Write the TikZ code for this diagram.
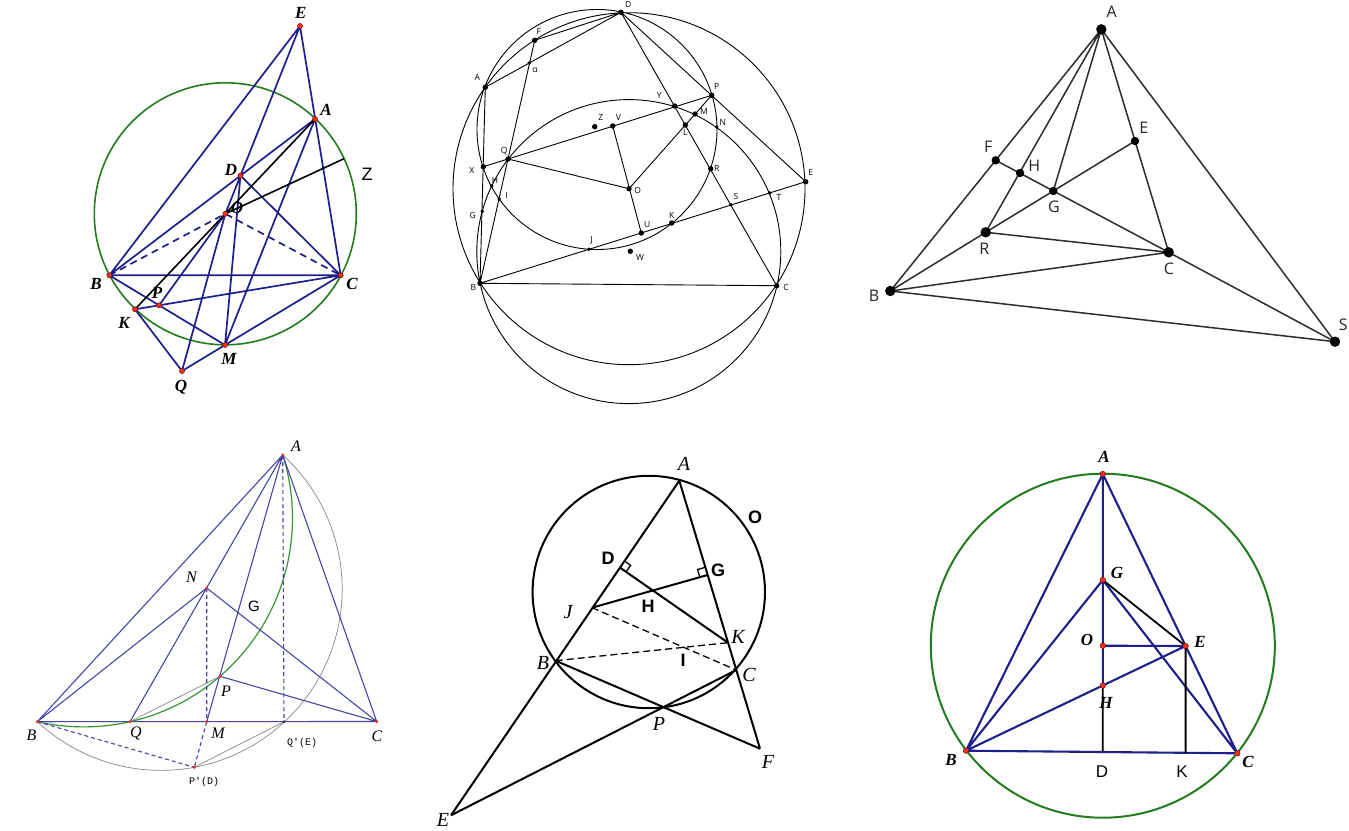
\documentclass[tikz,border=0pt]{standalone}
\usepackage{fontspec}
\setmainfont{Liberation Serif}
\newfontfamily\sansf{Liberation Sans}
\newfontfamily\osans{Open Sans}
\newfontfamily\monof[Ligatures=TeXOff]{Liberation Mono}
\usetikzlibrary{calc}
\definecolor{navyA}{RGB}{30,30,140}
\definecolor{greenA}{RGB}{35,125,30}
\definecolor{redpt}{RGB}{235,50,30}
\definecolor{blueD}{RGB}{70,70,168}
\definecolor{greenD}{RGB}{55,150,55}
\definecolor{greyD}{RGB}{135,135,135}
\definecolor{darkC}{RGB}{45,45,45}
\tikzset{
  lineA/.style={draw=navyA, line width=1.7pt},
  blackA/.style={draw=black, line width=1.6pt},
  rdot/.style={fill=redpt, draw=red!45!black, line width=0.4pt},
  labA/.style={inner sep=0pt, font=\fontsize{17}{17}\selectfont\bfseries\itshape},
  lineB/.style={draw=black, line width=0.9pt},
  labB/.style={inner sep=0pt, font=\osans\fontsize{8.5}{8.5}\selectfont},
  lineC/.style={draw=darkC, line width=1.5pt},
  labC/.style={inner sep=0pt, font=\osans\fontsize{16}{16}\selectfont, text=black!85},
  lineD/.style={draw=blueD, line width=1.1pt},
  labD/.style={inner sep=0pt, font=\fontsize{16}{16}\selectfont\itshape},
  lineE/.style={draw=black, line width=2pt},
  labEi/.style={inner sep=0pt, font=\fontsize{20}{20}\selectfont\itshape},
  labEb/.style={inner sep=0pt, font=\sansf\fontsize{18}{18}\selectfont\bfseries},
  lineF/.style={draw=navyA, line width=2.1pt},
  labF/.style={inner sep=0pt, font=\fontsize{17}{17}\selectfont\bfseries\itshape},
  labFs/.style={inner sep=0pt, font=\sansf\fontsize{17}{17}\selectfont},
}
\begin{document}
\begin{tikzpicture}[x=1pt,y=-1pt]
\useasboundingbox (0,0) rectangle (1349,830);
\fill[white] (0,0) rectangle (1349,830);

% ---------------- Diagram 1 (top left)
\coordinate (aE) at (300,26);
\coordinate (aA) at (315,119);
\coordinate (aD) at (240.5,175.6);
\coordinate (aO) at (225.3,213.8);
\coordinate (aB) at (109.3,275.3);
\coordinate (aC) at (340.7,275.3);
\coordinate (aK) at (135,309.3);
\coordinate (aP) at (159.1,305.3);
\coordinate (aM) at (225,345);
\coordinate (aQ) at (182,371);
\coordinate (aZ) at (344,158.7);
\draw[greenA, line width=1.6pt] (aO) circle (131pt);
\draw[lineA] (aE)--(aB) (aE)--(aC) (aE)--(aO) (aA)--(aB) (aD)--(aC) (aB)--(aC)
  (aB)--(aM) (aK)--(aC) (aK)--(aQ) (aQ)--(aM) (aM)--(aC) (aA)--(aM)
  (aO)--(aP) (aO)--(aQ) (aD)--(aM);
\draw[lineA, dash pattern=on 7pt off 5pt] (aB)--(aO)--(aC);
\draw[blackA] (aA)--(aK) (aO)--(aZ);
\foreach \p in {aE,aA,aD,aO,aB,aC,aK,aP,aM,aQ} \filldraw[rdot] (\p) circle (2.6pt);
\node[labA] (laE) at (300.7,13) {E};
\node[labA] (laA) at (326,110) {A};
\node[labA] (laD) at (231,170) {D};
\node[labA] (laO) at (237,208) {O};
\node[inner sep=0pt, font=\sansf\fontsize{18}{18}\selectfont] (laZ) at (367,174) {Z};
\node[labA] (laB) at (96,284) {B};
\node[labA] (laC) at (352,284) {C};
\node[labA] (laP) at (157,293) {P};
\node[labA] (laK) at (124,323) {K};
\node[labA] (laM) at (229,359) {M};
\node[labA] (laQ) at (181,387) {Q};

% ---------------- Diagram 2 (top middle)
\coordinate (bD) at (621,12.3);
\coordinate (bF) at (534.7,40.3);
\coordinate (bal) at (529.3,63);
\coordinate (bA) at (485.3,87.3);
\coordinate (bX) at (483.3,166.7);
\coordinate (bQ) at (508,159);
\coordinate (bH) at (491.7,186);
\coordinate (bI) at (499.3,199);
\coordinate (bG) at (482.3,211.3);
\coordinate (bB) at (480,283.3);
\coordinate (bC) at (776.7,285.7);
\coordinate (bE) at (805.7,181.7);
\coordinate (bP) at (711.7,95.3);
\coordinate (bY) at (674.7,106);
\coordinate (bM) at (695,114);
\coordinate (bL) at (685.3,125);
\coordinate (bN) at (716.7,127);
\coordinate (bR) at (710.7,168.7);
\coordinate (bS) at (731,204.7);
\coordinate (bT) at (769.7,193);
\coordinate (bK) at (671.7,223);
\coordinate (bU) at (641.3,233);
\coordinate (bJ) at (589,249.3);
\coordinate (bW) at (630.3,251.3);
\coordinate (bO) at (629,188.7);
\coordinate (bZ) at (594.7,126.7);
\coordinate (bV) at (612.7,126);
\coordinate (bc2) at (628.8,251.6);
\coordinate (bc3) at (597,129.5);
\draw[lineB] (bO) circle (176pt) (bc2) circle (152pt) (bc3) circle (120pt);
\draw[lineB] (bA)--(bD) (bF)--(bD) (bF)--(bB) (bA)--(bB) (bX)--(bP) (bQ)--(bO)
  (bV)--(bU) (bO)--(bP) (bD)--(bC) (bD)--(bE) (bB)--(bE) (bB)--(bC);
\foreach \p in {bD,bF,bA,bX,bQ,bV,bZ,bO,bU,bW,bY,bP,bM,bL,bR,bK,bE,bC,bB} \fill (\p) circle (2.7pt);
\foreach \p in {bal,bH,bI,bG,bN,bS,bT,bJ} \fill (\p) circle (1.9pt);
\node[labB] (lbD) at (628.3,4) {D};
\node[labB] (lbF) at (538.7,31.7) {F};
\node[labB] (lbal) at (535,70) {α};
\node[labB] (lbA) at (477.3,77.7) {A};
\node[labB] (lbX) at (471.7,170.7) {X};
\node[labB] (lbQ) at (504.3,150.7) {Q};
\node[labB] (lbH) at (495,180) {H};
\node[labB] (lbI) at (506.7,195) {I};
\node[labB] (lbG) at (472.7,215.7) {G};
\node[labB] (lbB) at (473.3,287.3) {B};
\node[labB] (lbC) at (786,287.3) {C};
\node[labB] (lbE) at (810.7,172.7) {E};
\node[labB] (lbP) at (716.7,86) {P};
\node[labB] (lbY) at (659.3,95.3) {Y};
\node[labB] (lbM) at (704,111) {M};
\node[labB] (lbL) at (685.3,132.3) {L};
\node[labB] (lbN) at (722.7,122.3) {N};
\node[labB] (lbR) at (716.7,168.3) {R};
\node[labB] (lbS) at (736,196.7) {S};
\node[labB] (lbT) at (779,197.3) {T};
\node[labB] (lbK) at (671.7,215.3) {K};
\node[labB] (lbU) at (647.3,225) {U};
\node[labB] (lbJ) at (591.7,240.7) {J};
\node[labB] (lbW) at (640,257.3) {W};
\node[labB] (lbO) at (637.7,190.7) {O};
\node[labB] (lbZ) at (600.7,117.3) {Z};
\node[labB] (lbV) at (618.3,117.3) {V};

% ---------------- Diagram 3 (top right)
\coordinate (cA) at (1101.3,29.3);
\coordinate (cE) at (1135,141);
\coordinate (cF) at (995.7,160.3);
\coordinate (cH) at (1020,173);
\coordinate (cG) at (1053.3,191);
\coordinate (cR) at (985.7,232.3);
\coordinate (cC) at (1168.7,252.3);
\coordinate (cB) at (890.3,291);
\coordinate (cS) at (1335,341.7);
\draw[lineC] (cA)--(cB) (cA)--(cR) (cA)--(cG) (cA)--(cC) (cA)--(cS) (cF)--(cC)
  (cE)--(cR) (cR)--(cC) (cR)--(cB) (cB)--(cC) (cB)--(cS) (cC)--(cS);
\foreach \p in {cA,cB,cC,cR,cS} \fill (\p) circle (5.2pt);
\foreach \p in {cE,cF,cH,cG} \fill (\p) circle (4.2pt);
\node[labC] (lcA) at (1111.7,12) {A};
\node[labC] (lcE) at (1143.7,127.3) {E};
\node[labC] (lcF) at (988.3,147) {F};
\node[labC] (lcH) at (1034.3,165.3) {H};
\node[labC] (lcG) at (1054,206.7) {G};
\node[labC] (lcR) at (984.3,248.3) {R};
\node[labC] (lcC) at (1169,269) {C};
\node[labC] (lcB) at (874,295.7) {B};
\node[labC] (lcS) at (1343.3,325) {S};

% ---------------- Diagram 4 (bottom left)
\coordinate (dA) at (282.7,455);
\coordinate (dN) at (206.7,588);
\coordinate (dP) at (220,676.3);
\coordinate (dB) at (37.3,721.7);
\coordinate (dQ) at (130,721.7);
\coordinate (dM) at (206.7,721.7);
\coordinate (dE) at (284,721.7);
\coordinate (dC) at (376.7,721.5);
\coordinate (dPp) at (194.3,767.3);
\draw[greyD, line width=0.7pt] plot[domain=133:-47.8, samples=90] ({161+181.2*cos(\x)},{589.2+181.2*sin(\x)});
\draw[greenD, line width=1.2pt] plot[domain=102.8:-17.6, samples=90] ({83.7+208.8*cos(\x)},{518.1+208.8*sin(\x)});
\draw[greyD, line width=0.7pt] (dQ)--(dP) (dPp)--(dE);
\draw[lineD] (dA)--(dB) (dA)--(dC) (dB)--(dC) (dA)--(dQ) (dA)--(dM) (dB)--(dN) (dN)--(dC) (dP)--(dC);
\draw[lineD, dash pattern=on 4pt off 3pt] (dN)--(dM) (dA)--(dE) (dM)--(dPp) (dB)--(dPp);
\foreach \p in {dA,dN,dP,dB,dQ,dM,dC,dPp} \fill[redpt] (\p) circle (1.7pt);
\fill[black!80] (dE) circle (1.7pt);
\node[labD] (ldA) at (296,446) {A};
\node[labD] (ldN) at (191.5,577) {N};
\node[inner sep=0pt, font=\sansf\fontsize{15}{15}\selectfont] (ldG) at (254,606.5) {G};
\node[labD] (ldP) at (226,691) {P};
\node[labD] (ldB) at (31.5,735) {B};
\node[labD] (ldQ) at (136,733) {Q};
\node[labD] (ldM) at (218,733.5) {M};
\node[labD] (ldC) at (377,736.5) {C};
\node[inner sep=0pt, font=\monof\fontsize{10}{10}\selectfont] (ldE) at (302,743) {Q'(E)};
\node[inner sep=0pt, font=\monof\fontsize{10}{10}\selectfont] (ldPp) at (204,782) {P'(D)};

% ---------------- Diagram 5 (bottom middle)
\coordinate (eA) at (679.3,480.7);
\coordinate (eB) at (555.7,660.7);
\coordinate (eE) at (451,815.3);
\coordinate (eD) at (619.5,567.3);
\coordinate (eJ) at (592,607.7);
\coordinate (eG) at (707.5,575);
\coordinate (eK) at (728,642.7);
\coordinate (eC) at (736.3,670);
\coordinate (eF) at (760,748.7);
\coordinate (eH) at (650,590);
\coordinate (eP) at (662.7,707.3);
\coordinate (eOc) at (648.8,592);
\draw[lineE] (eOc) circle (116.2pt);
\draw[lineE] (eA)--(eE) (eA)--(eF) (eD)--(eK) (eG)--(eJ) (eB)--(eF) (eE)--(eC);
\draw[draw=black, line width=1.3pt, dash pattern=on 7pt off 4pt] (eJ)--(eC) (eB)--(eK);
\coordinate (eDu) at ($(eD)!8pt!(eA)$);
\coordinate (eDv) at ($(eD)!8pt!(eK)$);
\draw[black, line width=1.3pt] (eDu) -- ($(eDu)+(eDv)-(eD)$) -- (eDv);
\coordinate (eGu) at ($(eG)!8pt!(eA)$);
\coordinate (eGv) at ($(eG)!8pt!(eJ)$);
\draw[black, line width=1.3pt] (eGu) -- ($(eGu)+(eGv)-(eG)$) -- (eGv);
\node[labEi] (leA) at (684,464) {A};
\node[labEb] (leO) at (755,517) {O};
\node[labEb] (leD) at (608,558) {D};
\node[labEb] (leG) at (718,570) {G};
\node[labEb] (leH) at (648,606) {H};
\node[labEi] (leJ) at (568,612) {J};
\node[labEi] (leK) at (738,637) {K};
\node[labEb] (leI) at (683,660) {I};
\node[labEi] (leB) at (543,663) {B};
\node[labEi] (leC) at (749,675) {C};
\node[labEi] (leP) at (659,724) {P};
\node[labEi] (leF) at (768,762) {F};
\node[labEi] (leE) at (443,820) {E};

% ---------------- Diagram 6 (bottom right)
\coordinate (fA) at (1102.8,474);
\coordinate (fG) at (1102.8,580);
\coordinate (fO) at (1102.8,645.7);
\coordinate (fH) at (1102.8,685.5);
\coordinate (fB) at (966,750.7);
\coordinate (fC) at (1237.3,753.3);
\coordinate (fD) at (1102.8,752);
\coordinate (fE) at (1185.6,646);
\coordinate (fK) at (1185.6,752.8);
\draw[greenA, line width=2pt] (fO) circle (172pt);
\draw[lineF] (fA)--(fB) (fA)--(fC) (fB)--(fC) (fA)--(fH) (fB)--(fG) (fG)--(fC) (fB)--(fE) (fO)--(fE);
\draw[black, line width=1.8pt] (fG)--(fE) (fH)--(fD) (fE)--(fK);
\foreach \p in {fA,fG,fO,fH,fB,fC,fE} \filldraw[rdot] (\p) circle (2.8pt);
\node[labF] (lfA) at (1104,457) {A};
\node[labF] (lfG) at (1117,573) {G};
\node[labF] (lfO) at (1087,640) {O};
\node[labF] (lfE) at (1200,642) {E};
\node[labF] (lfH) at (1106,703) {H};
\node[labF] (lfB) at (951,760) {B};
\node[labF] (lfC) at (1248,762) {C};
\node[labFs] (lfD) at (1102,772) {D};
\node[labFs] (lfK) at (1182,772) {K};
\end{tikzpicture}
\end{document}
